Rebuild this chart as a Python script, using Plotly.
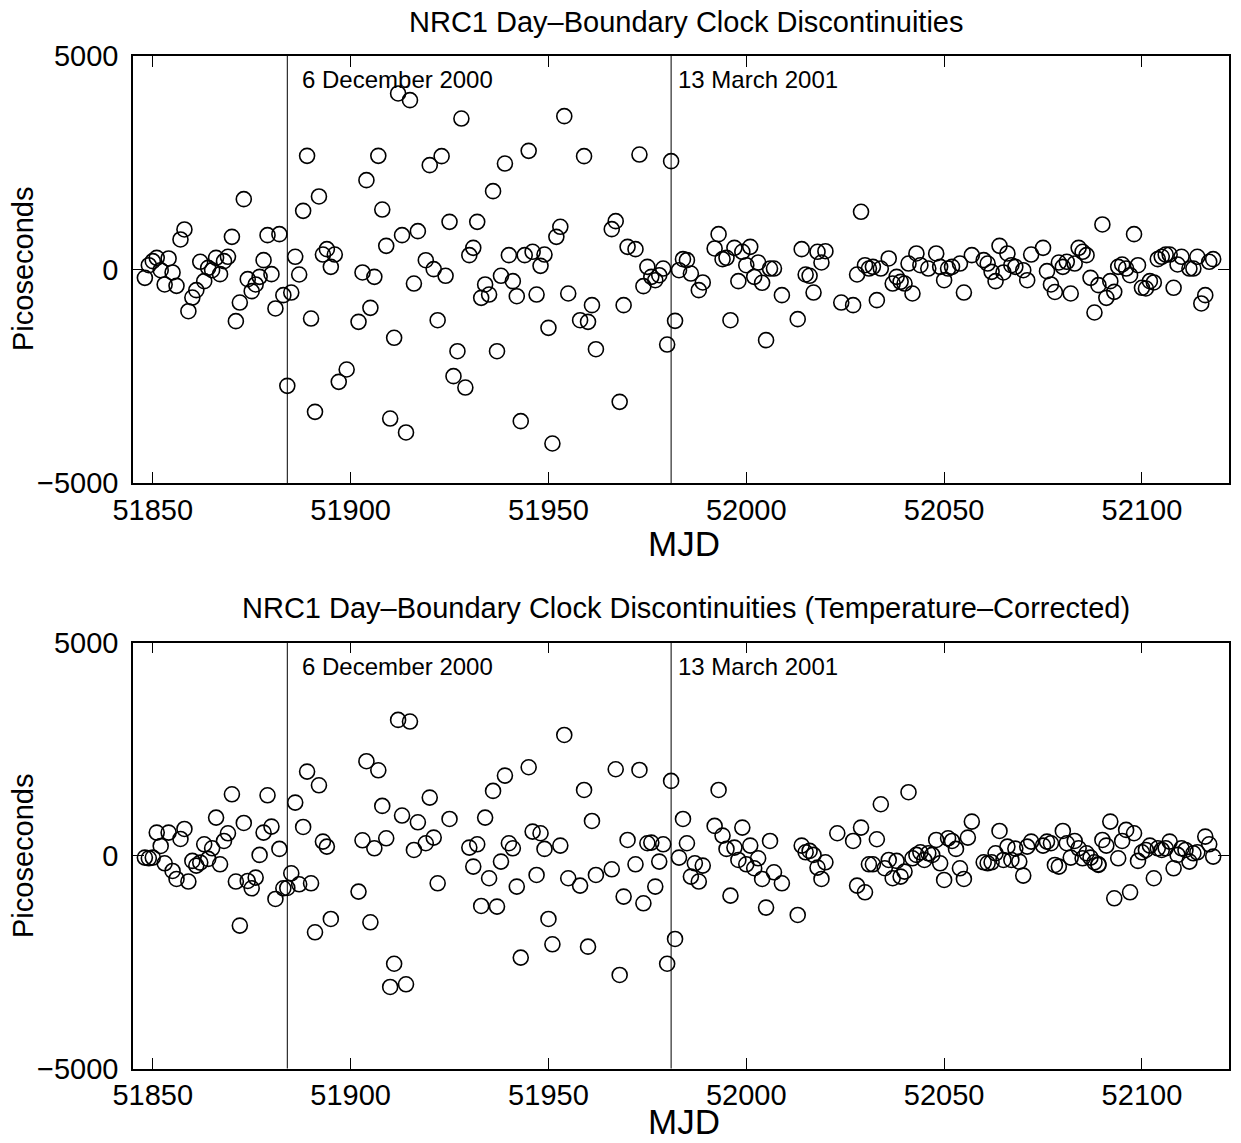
import plotly.graph_objects as go

# ---------------- data ----------------
top_mjd = [51848, 51849, 51850, 51851, 51852, 51853, 51854, 51855, 51856, 51857,
           51858, 51859, 51860, 51861, 51862, 51863, 51864, 51865, 51866, 51867,
           51868, 51869, 51870, 51871, 51872, 51873, 51874, 51875, 51876, 51877,
           51878, 51879, 51880, 51881, 51882, 51883, 51884, 51885, 51886, 51887,
           51888, 51889, 51890, 51891, 51892, 51893, 51894, 51895, 51896, 51897,
           51899, 51902, 51903, 51904, 51905, 51906, 51907, 51908, 51909, 51910,
           51911, 51912, 51913, 51914, 51915, 51916, 51917, 51919, 51920, 51921,
           51922, 51923, 51924, 51925, 51926, 51927, 51928, 51929, 51930, 51931,
           51932, 51933, 51934, 51935, 51936, 51937, 51938, 51939, 51940, 51941,
           51942, 51943, 51944, 51945, 51946, 51947, 51948, 51949, 51950, 51951,
           51952, 51953, 51954, 51955, 51958, 51959, 51960, 51961, 51962, 51966,
           51967, 51968, 51969, 51970, 51972, 51973, 51974, 51975, 51976, 51977,
           51978, 51979, 51980, 51981, 51982, 51983, 51984, 51985, 51986, 51988,
           51989, 51992, 51993, 51994, 51995, 51996, 51997, 51998, 51999, 52000,
           52001, 52002, 52003, 52004, 52005, 52006, 52007, 52009, 52013, 52014,
           52015, 52016, 52017, 52018, 52019, 52020, 52024, 52027, 52028, 52029,
           52030, 52031, 52032, 52033, 52034, 52036, 52037, 52038, 52039, 52040,
           52041, 52042, 52043, 52044, 52046, 52048, 52049, 52050, 52051, 52052,
           52054, 52055, 52057, 52060, 52061, 52062, 52063, 52064, 52065, 52066,
           52067, 52068, 52070, 52071, 52072, 52075, 52076, 52077, 52078, 52079,
           52080, 52081, 52082, 52083, 52084, 52085, 52086, 52087, 52088, 52089,
           52090, 52091, 52092, 52093, 52094, 52095, 52096, 52097, 52098, 52099,
           52100, 52101, 52102, 52103, 52104, 52105, 52106, 52107, 52108, 52109,
           52110, 52112, 52113, 52114, 52115, 52116, 52117, 52118]
top_ps = [-195, 101, 195, 273, -16, -351, 258, -70, -383, 703,
          937, -976, -656, -484, 180, -273, 39, -16, 273, -109,
          195, 297, 765, -1210, -773, 1647, -226, -507, -351, -172,
          219, 804, -109, -913, 828, -601, -2725, -539, 297, -117,
          1374, 2662, -1148, -3334, 1710, 351, 476, 62, 351, -2631,
          -2342, -1226, -70, 2092, -898, -172, 2662, 1405, 554, -3490,
          -1600, 4122, 804, -3817, 3966, -328, 898, 218, 2444, 8,
          -1187, 2654, -148, 1116, -2498, -1913, 3536, -2764, 336, 507,
          1116, -664, -351, -586, 1835, -1913, -148, 2482, 336, -273,
          -625, -3552, 336, 2779, 414, -586, 86, 351, -1366, -4075,
          765, 1000, 3591, -562, -1187, 2654, -1226, -835, -1866, 945,
          1132, -3099, -835, 531, 476, 2693, -390, 62, -172, -250,
          -133, 23, -1757, 2537, -1202, -16, 242, 219, -94, -484,
          -304, 492, 828, 242, 273, -1187, 507, -273, 414, 101,
          531, -172, 164, -312, -1655, 23, 23, -601, -1163, 476,
          -117, -148, -539, 414, 164, 429, -773, -835, -117, 1351,
          101, 23, 62, -718, 23, 258, -328, -172, -289, -328,
          140, -562, 375, 101, 23, 375, 62, -250, 23, 62,
          140, -539, 336, 219, 140, -55, -273, 554, -70, 375,
          101, 62, -16, -250, 351, 507, -39, -351, -527, 164,
          62, 180, -562, 140, 507, 414, 336, -195, -1007, -367,
          1054, -664, -273, -523, 62, 117, 23, -133, 828, 101,
          -429, -445, -273, -304, 242, 297, 351, 351, -429, 117,
          297, 23, 23, 297, -796, -601, 180, 242]

bot_mjd = [51848, 51849, 51850, 51851, 51852, 51853, 51854, 51855, 51856, 51857,
           51858, 51859, 51860, 51861, 51862, 51863, 51864, 51865, 51866, 51867,
           51868, 51869, 51870, 51871, 51872, 51873, 51874, 51875, 51876, 51877,
           51878, 51879, 51880, 51881, 51882, 51883, 51884, 51885, 51886, 51887,
           51888, 51889, 51890, 51891, 51892, 51893, 51894, 51895, 51902, 51903,
           51904, 51905, 51906, 51907, 51908, 51909, 51910, 51911, 51912, 51913,
           51914, 51915, 51916, 51917, 51919, 51920, 51921, 51922, 51925, 51930,
           51931, 51932, 51933, 51934, 51935, 51936, 51937, 51938, 51939, 51940,
           51941, 51942, 51943, 51945, 51946, 51947, 51948, 51949, 51950, 51951,
           51953, 51954, 51955, 51958, 51959, 51960, 51961, 51962, 51966, 51967,
           51968, 51969, 51970, 51972, 51973, 51974, 51975, 51976, 51977, 51978,
           51979, 51980, 51981, 51982, 51983, 51984, 51985, 51986, 51987, 51988,
           51989, 51992, 51993, 51994, 51995, 51996, 51997, 51998, 51999, 52000,
           52001, 52002, 52003, 52004, 52005, 52006, 52007, 52009, 52013, 52014,
           52015, 52016, 52017, 52018, 52019, 52020, 52023, 52027, 52028, 52029,
           52030, 52031, 52032, 52033, 52034, 52035, 52036, 52037, 52038, 52039,
           52040, 52041, 52042, 52043, 52044, 52045, 52046, 52047, 52048, 52049,
           52050, 52051, 52052, 52053, 52054, 52055, 52056, 52057, 52060, 52061,
           52062, 52063, 52064, 52065, 52066, 52067, 52068, 52069, 52070, 52071,
           52072, 52075, 52076, 52077, 52078, 52079, 52080, 52081, 52082, 52083,
           52084, 52085, 52086, 52087, 52088, 52089, 52089, 52090, 52091, 52092,
           52093, 52094, 52095, 52096, 52097, 52098, 52099, 52100, 52101, 52102,
           52103, 52104, 52105, 52106, 52107, 52108, 52109, 52110, 52111, 52112,
           52113, 52114, 52116, 52117, 52118]
bot_ps = [-47, -63, -47, 540, 227, -180, 540, -360, -548, 390,
          626, -610, -125, -235, -164, 266, -78, 172, 892, -204,
          344, 524, 1440, -610, -1644, 767, -595, -767, -517, 16,
          540, 1417, 681, -1018, 157, -767, -760, -415, 1245, -673,
          673, 1973, -650, -1801, 1652, 329, 211, -1488, -846, 360,
          2216, -1566, 172, 2004, 1167, 407, -3085, -2540, 3187, 940,
          -3022, 3148, 133, 783, 290, 1362, 423, -650, 861, 188,
          -258, 266, -1182, 892, -532, 1519, -1198, -141, 1879, 290,
          172, -728, -2396, 2075, 564, -454, 525, 157, -1488, -2083,
          235, 2834, -532, -705, 1542, -2138, 814, -454, -321, 2028,
          -2803, -963, 368, -204, 2012, -1120, 290, 305, -728, -141,
          266, -2540, 1754, -1958, -47, 861, 290, -493, -180, -610,
          -235, 697, 1542, 470, 157, -940, 188, -102, 658, -204,
          235, -297, -63, -548, -1221, 344, -392, -650, -1394, 235,
          78, 110, 16, -282, -548, -157, 525, 344, -705, 658,
          -861, -204, -204, 384, 1206, -297, -102, -532, -125, -493,
          -376, 1488, -63, 16, 78, -102, 55, 16, 368, -180,
          -572, 407, 344, 157, -298, -548, 423, 799, -157, -180,
          -157, 55, 579, -102, 211, -102, 164, -141, -470, 211,
          329, 235, 329, 290, -219, -258, 579, 290, -47, 344,
          172, -63, 55, -47, -157, -204, -219, 368, 235, 799,
          -1002, -63, 344, 603, -861, 525, -125, 78, 133, 235,
          -532, 172, 133, 172, 329, -298, 16, 172, 133, -141,
          55, 78, 446, 266, -23]

event_mjd = [51884, 51981]
event_labels = ["6 December 2000", "13 March 2001"]

x_ticks = [51850, 51900, 51950, 52000, 52050, 52100]
x_ticklabels = ["51850", "51900", "51950", "52000", "52050", "52100"]
y_ticks = [-5000, 0, 5000]
y_ticklabels = ["\u22125000", "0", "5000"]
x_range = [51845, 52122]
y_range = [-5000, 5000]

top_title = "NRC1 Day\u2013Boundary Clock Discontinuities"
bot_title = "NRC1 Day\u2013Boundary Clock Discontinuities (Temperature\u2013Corrected)"
x_title = "MJD"
y_title = "Picoseconds"

# ---------------- figure ----------------
W, H = 1241, 1143
FONT = "Liberation Sans, Arial, Helvetica, sans-serif"


def px(x):
    return x / W


def py(y):
    return 1 - y / H


fig = go.Figure()

marker = dict(symbol="circle-open", size=15, color="black", line=dict(width=1.6, color="black"))
fig.add_trace(go.Scatter(x=top_mjd, y=top_ps, mode="markers", marker=marker,
                         xaxis="x", yaxis="y", showlegend=False, cliponaxis=True))
fig.add_trace(go.Scatter(x=bot_mjd, y=bot_ps, mode="markers", marker=marker,
                         xaxis="x2", yaxis="y2", showlegend=False, cliponaxis=True))

xdom = [px(133), px(1229)]
ydom_top = [py(483), py(56)]
ydom_bot = [py(1068.5), py(642.7)]

axis_common = dict(
    showline=True, linecolor="black", linewidth=1.5, mirror="ticks",
    ticks="inside", ticklen=11, tickwidth=1.2, tickcolor="black",
    showgrid=False, zeroline=False, automargin=False,
    tickfont=dict(family=FONT, size=29, color="black"),
)

fig.update_layout(
    template="none",
    width=W, height=H,
    margin=dict(l=0, r=0, t=0, b=0, pad=0, autoexpand=False),
    paper_bgcolor="white", plot_bgcolor="white",
    xaxis=dict(domain=xdom, range=x_range, tickvals=x_ticks, ticktext=x_ticklabels,
               anchor="y", ticklabelstandoff=0, **axis_common),
    yaxis=dict(domain=ydom_top, range=y_range, tickvals=y_ticks, ticktext=y_ticklabels,
               anchor="x", ticklabelstandoff=7, **axis_common),
    xaxis2=dict(domain=xdom, range=x_range, tickvals=x_ticks, ticktext=x_ticklabels,
                anchor="y2", ticklabelstandoff=0, **axis_common),
    yaxis2=dict(domain=ydom_bot, range=y_range, tickvals=y_ticks, ticktext=y_ticklabels,
                anchor="x2", ticklabelstandoff=7, **axis_common),
)

# vertical event lines
for xa, ya in (("x", "y"), ("x2", "y2")):
    for m in event_mjd:
        fig.add_shape(type="line", xref=xa, yref=ya + " domain", x0=m, x1=m, y0=0, y1=1,
                      line=dict(color="black", width=1))

annots = []
title_font = dict(family=FONT, size=29, color="black")
label_font = dict(family=FONT, size=29, color="black")
mjd_font = dict(family=FONT, size=35, color="black")
event_font = dict(family=FONT, size=24, color="black")

for title, ty, mjd_y, pico_y, ev_y in ((top_title, 22, 543, 269, 79),
                                       (bot_title, 608, 1121, 856, 666)):
    annots.append(dict(text=title, x=px(686), y=py(ty), xref="paper", yref="paper",
                       xanchor="center", yanchor="middle", showarrow=False, font=title_font))
    annots.append(dict(text=x_title, x=px(684), y=py(mjd_y), xref="paper", yref="paper",
                       xanchor="center", yanchor="middle", showarrow=False, font=mjd_font))
    annots.append(dict(text=y_title, x=px(23), y=py(pico_y), xref="paper", yref="paper",
                       xanchor="center", yanchor="middle", showarrow=False, textangle=-90,
                       font=label_font))
    for lbl, xl in zip(event_labels, (300, 676)):
        annots.append(dict(text=lbl, x=px(xl), y=py(ev_y), xref="paper", yref="paper",
                           xanchor="left", yanchor="middle", showarrow=False, font=event_font))

fig.update_layout(annotations=annots)
fig.write_html("out.html", config={"displayModeBar": False},
               post_script="document.body.style.margin='0px';")
